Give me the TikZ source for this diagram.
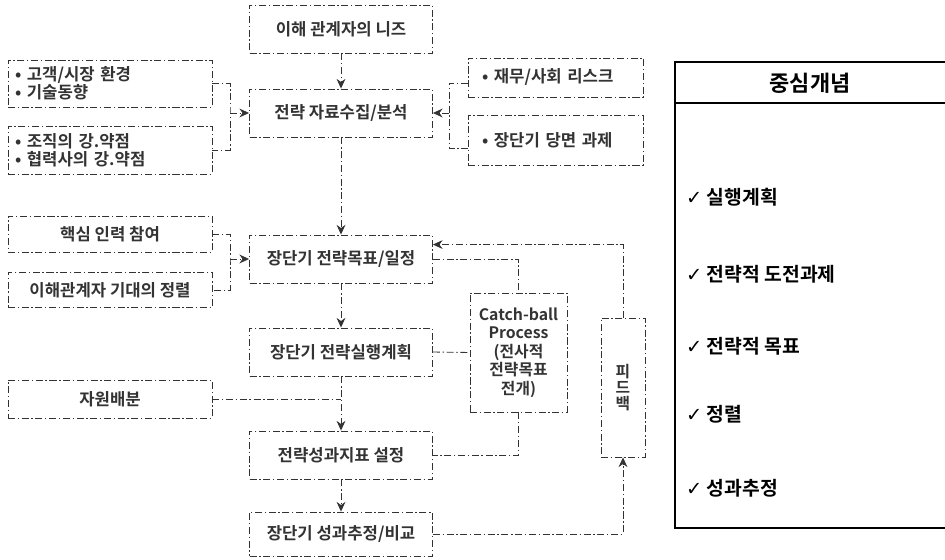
\documentclass[tikz,border=0pt]{standalone}
\usepackage{fontspec}
\setmainfont{Noto Sans CJK KR}[BoldFont={Noto Sans CJK KR Bold}]
\newfontfamily\symfont{DejaVu Sans}
\usetikzlibrary{arrows.meta}

\begin{document}
\begin{tikzpicture}[x=0.02cm, y=-0.02cm,
  font=\fontsize{9.5}{10.5}\selectfont\bfseries,
  ln/.style={line width=0.5pt, black!80, dash pattern=on 4pt off 1.5pt on 0.8pt off 1.5pt},
  box/.style={ln, draw, inner sep=0pt, align=center},
  mid/.style={box, minimum width=3.66cm, minimum height=0.96cm},
  side/.style={box, minimum width=4.08cm},
  arr/.style={ln, -{Stealth[length=5.5pt, width=5pt]}},
  item/.style={anchor=west, font=\fontsize{11}{13}\selectfont\bfseries}]
  \useasboundingbox (0,0) rectangle (945,560);

  \node[mid] (needs) at (341,29) {이해 관계자의 니즈};
  \node[mid] (anal) at (341,113) {전략 자료수집/분석};
  \node[mid] (goal) at (341,259) {장단기 전략목표/일정};
  \node[mid] (plan) at (341,352) {장단기 전략실행계획};
  \node[mid] (kpi) at (341,455) {전략성과지표 설정};
  \node[mid, minimum height=0.88cm] (meas) at (341,534) {장단기 성과추정/비교};

  \node[side, minimum height=0.94cm, text width=3.8cm, align=left] (env) at (110,83.5)
    {• 고객/시장 환경\\• 기술동향};
  \node[side, minimum height=0.96cm, text width=3.8cm, align=left] (swot) at (110,150)
    {• 조직의 강.약점\\• 협력사의 강.약점};
  \node[side, minimum height=0.72cm] (core) at (110,234) {핵심 인력 참여};
  \node[side, minimum height=0.7cm] (expect) at (110,290) {이해관계자 기대의 정렬};
  \node[side, minimum height=0.76cm] (res) at (110,399) {자원배분};

  \node[box, minimum width=3.5cm, minimum height=0.78cm, text width=2.94cm, align=left]
    (risk) at (555.5,77.5) {• 재무/사회 리스크};
  \node[box, minimum width=3.5cm, minimum height=1cm, text width=2.94cm, align=left]
    (task) at (555.5,140) {• 장단기 당면 과제};

  \node[box, minimum width=1.94cm, minimum height=2.38cm, font=\fontsize{9}{10.5}\selectfont\bfseries]
    (catch) at (518.5,352.5) {Catch-ball\\Process\\(전사적\\전략목표\\전개)};
  \node[box, minimum width=0.88cm, minimum height=2.78cm, font=\fontsize{9}{9}\selectfont\bfseries]
    (fb) at (623,387.5) {피\\드\\백};

  \draw[line width=0.8pt] (945,62) -- (675,62) -- (675,528) -- (945,528);
  \draw[line width=0.8pt] (675,103) -- (945,103);
  \node[font=\fontsize{12.5}{14}\selectfont\bfseries] (hdr) at (810,83) {중심개념};
  \node[item] (c1) at (680,197) {{\symfont\bfseries ✓} 실행계획};
  \node[item] (c2) at (680,274) {{\symfont\bfseries ✓} 전략적 도전과제};
  \node[item] (c3) at (680,346) {{\symfont\bfseries ✓} 전략적 목표};
  \node[item] (c4) at (680,414) {{\symfont\bfseries ✓} 정렬};
  \node[item] (c5) at (680,488) {{\symfont\bfseries ✓} 성과추정};

  \draw[arr] (needs) -- (anal);
  \draw[arr] (anal) -- (goal);
  \draw[arr] (goal) -- (plan);
  \draw[arr] (plan) -- (kpi);
  \draw[arr] (kpi) -- (meas);

  \coordinate (jl1) at (230,113);
  \draw[ln] (env.east) -| (jl1) |- (swot.east);
  \draw[arr] (jl1) -- (anal.west);
  \coordinate (jrT) at (449,83);
  \coordinate (jrB) at (449,148);
  \draw[ln] (risk.west |- jrT) -- (jrT) -- (jrB) -- (task.west |- jrB);
  \draw[arr] (jrT |- anal.east) -- (anal.east);

  \coordinate (jl2) at (230,259);
  \draw[ln] (core.east) -| (jl2) |- (expect.east);
  \draw[arr] (jl2) -- (goal.west);
  \draw[ln] (res.east) -- (res.east -| plan.south);

  \draw[ln] (goal.east) -| (catch.north);
  \draw[ln] (plan.east) -- (catch.west);
  \draw[ln] (catch.south) |- (kpi.east);
  \draw[arr] (meas.east) -| (fb.south);
  \draw[arr] (fb.north) |- ([yshift=-0.2cm]goal.north east);
\end{tikzpicture}
\end{document}
